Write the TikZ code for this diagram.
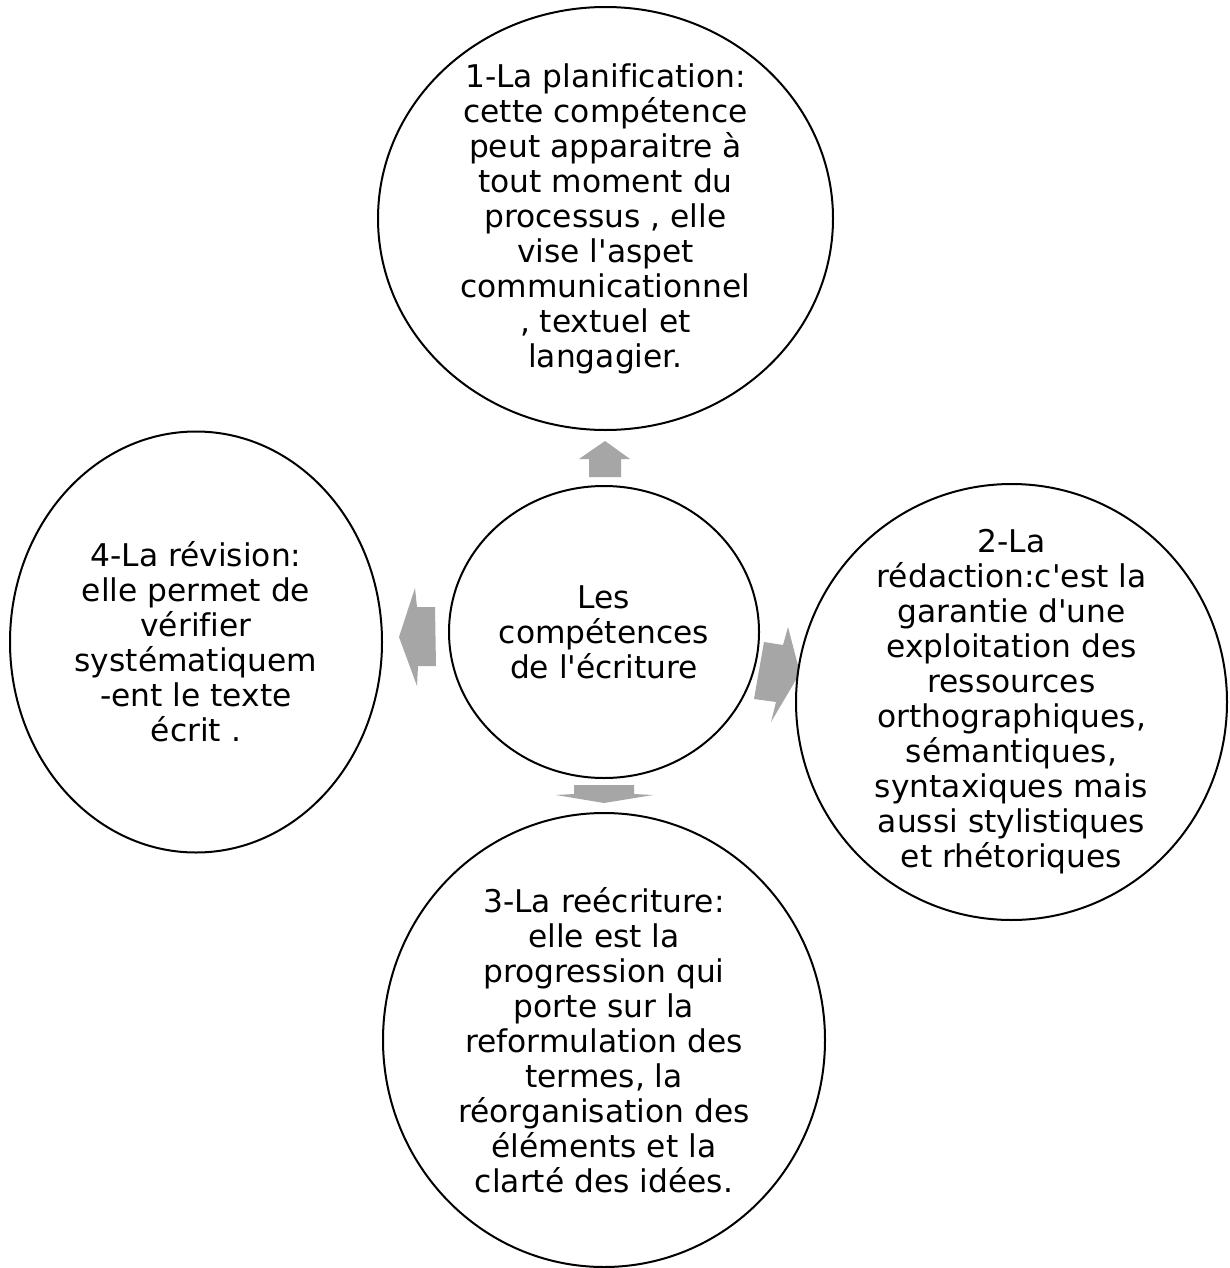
\documentclass[tikz,border=0pt]{standalone}
\usepackage{fontspec}
\setmainfont{DejaVu Sans}[Ligatures={TeXOff,CommonOff}]
\usetikzlibrary{shapes.geometric}
\definecolor{arrowgray}{RGB}{166,166,166}
\begin{document}
\begin{tikzpicture}[x=1pt,y=-1pt,
  blob/.style={ellipse, draw=black, line width=2pt, fill=white, inner sep=0pt, outer sep=0pt},
  txt/.style={align=center, font=\fontsize{31.3}{35}\selectfont, inner sep=0pt},
  blockarrow/.style={fill=arrowgray, draw=none}]
\useasboundingbox (0,0) rectangle (1230,1268);
\fill[white] (0,0) rectangle (1230,1268);

% block arrows
\path[blockarrow] (589,477) -- (589,459) -- (579,459) -- (605,441) -- (630,459) -- (621,459) -- (621,477) -- cycle;
\path[blockarrow] (764,642) -- (783,645) -- (788,627) -- (800,673) -- (771,722) -- (776,702) -- (754,699) -- cycle;
\path[blockarrow] (574,785) -- (634,785) -- (634,794) -- (653,795) -- (604,803) -- (556,795) -- (574,794) -- cycle;
\path[blockarrow] (435,607) -- (417,607) -- (415,588) -- (399,637) -- (417,686) -- (418,666) -- (436,666) -- cycle;

% circles
\node[blob, minimum width=310pt, minimum height=292pt] (core) at (604,632) {};
\node[blob, minimum width=455pt, minimum height=423pt] (plan) at (605.5,218.5) {};
\node[blob, minimum width=431pt, minimum height=436pt] (redac) at (1011.5,702) {};
\node[blob, minimum width=442pt, minimum height=454pt] (reecr) at (604,1040) {};
\node[blob, minimum width=372pt, minimum height=421pt] (revis) at (196,642) {};

% texts
\node[txt] (coret) at (core) {Les\\compétences\\de l'écriture};
\node[txt] (plant) at (plan) {1-La planification:\\cette compétence\\peut apparaitre à\\tout moment du\\processus , elle\\vise l'aspet\\communicationnel\\, textuel et\\langagier.};
\node[txt] (redact) at (redac) {2-La\\rédaction:c'est la\\garantie d'une\\exploitation des\\ressources\\orthographiques,\\sémantiques,\\syntaxiques mais\\aussi stylistiques\\et rhétoriques};
\node[txt] (reecrt) at (reecr) {3-La reécriture:\\elle est la\\progression qui\\porte sur la\\reformulation des\\termes, la\\réorganisation des\\éléments et la\\clarté des idées.};
\node[txt] (revist) at (revis) {4-La révision:\\elle permet de\\vérifier\\systématiquem\\-ent le texte\\écrit .};
\end{tikzpicture}
\end{document}
